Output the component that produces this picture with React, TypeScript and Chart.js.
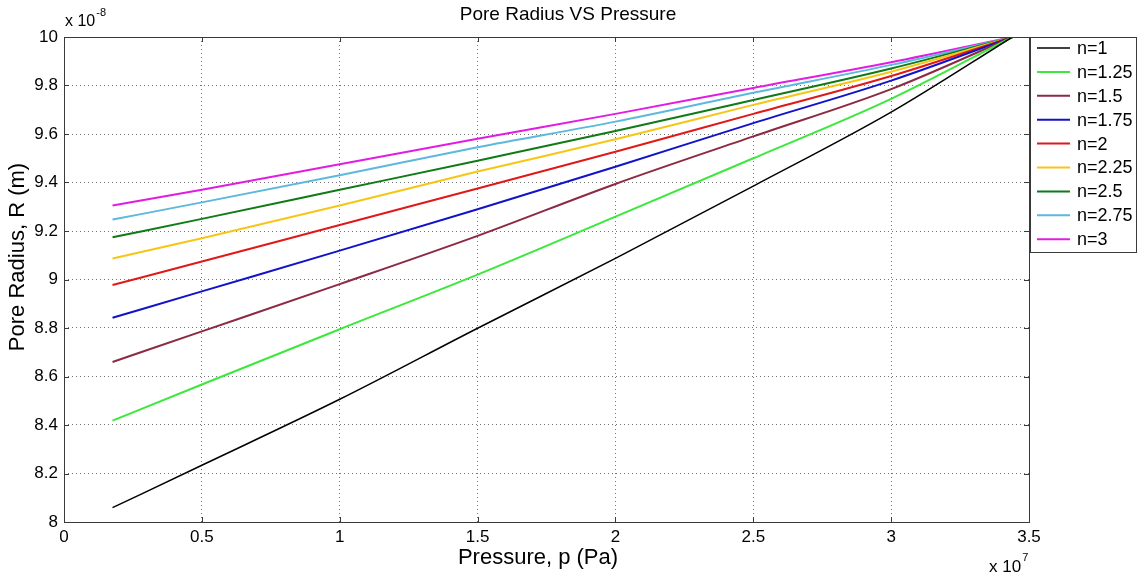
import React, { useEffect, useRef } from "react";
import { Chart, registerables } from "chart.js";

Chart.register(...registerables);

// Pressure values (x 10^7 Pa)
const pressure = [0.176, 0.5, 1.0, 1.5, 2.0, 2.5, 3.0, 3.44];

// Pore radius values (x 10^-8 m) for each n
const rN1 = [8.059, 8.234, 8.506, 8.799, 9.087, 9.385, 9.69, 10.0];
const rN125 = [8.418, 8.567, 8.795, 9.02, 9.259, 9.5, 9.745, 10.0];
const rN15 = [8.66, 8.786, 8.981, 9.18, 9.394, 9.59, 9.785, 10.0];
const rN175 = [8.842, 8.951, 9.119, 9.29, 9.465, 9.645, 9.82, 10.0];
const rN2 = [8.977, 9.074, 9.225, 9.375, 9.527, 9.683, 9.839, 10.0];
const rN225 = [9.087, 9.17, 9.305, 9.445, 9.578, 9.72, 9.857, 10.0];
const rN25 = [9.174, 9.25, 9.37, 9.49, 9.612, 9.74, 9.87, 10.0];
const rN275 = [9.247, 9.318, 9.43, 9.545, 9.651, 9.77, 9.885, 10.0];
const rN3 = [9.305, 9.37, 9.475, 9.58, 9.683, 9.79, 9.896, 10.0];

const seriesLabels = ["n=1", "n=1.25", "n=1.5", "n=1.75", "n=2", "n=2.25", "n=2.5", "n=2.75", "n=3"];
const seriesValues = [rN1, rN125, rN15, rN175, rN2, rN225, rN25, rN275, rN3];
const seriesColors = ["#000000", "#3be83b", "#8c2a44", "#1212c8", "#e01818", "#f7c614", "#0f7a16", "#5cb8dc", "#e21ce2"];

const xTicks = [0, 0.5, 1, 1.5, 2, 2.5, 3, 3.5];
const yTicks = [8, 8.2, 8.4, 8.6, 8.8, 9, 9.2, 9.4, 9.6, 9.8, 10];

const titleText = "Pore Radius VS Pressure";
const xLabel = "Pressure, p (Pa)";
const yLabel = "Pore Radius, R (m)";

const FONT = "'Liberation Sans', Arial, sans-serif";

const decorPlugin = {
  id: "decor",
  afterDraw(chart: any) {
    const { ctx, chartArea } = chart;
    const { left, right, top, bottom } = chartArea;
    const xs = chart.scales.x;
    const ys = chart.scales.y;
    ctx.save();
    // axes box
    ctx.strokeStyle = "#3a3a3a";
    ctx.lineWidth = 1;
    ctx.strokeRect(Math.round(left) + 0.5, Math.round(top) + 0.5, Math.round(right - left), Math.round(bottom - top));
    // inward ticks
    const tl = 5;
    ctx.beginPath();
    xTicks.forEach((v) => {
      const px = Math.round(xs.getPixelForValue(v)) + 0.5;
      ctx.moveTo(px, bottom);
      ctx.lineTo(px, bottom - tl);
      ctx.moveTo(px, top);
      ctx.lineTo(px, top + tl);
    });
    yTicks.forEach((v) => {
      const py = Math.round(ys.getPixelForValue(v)) + 0.5;
      ctx.moveTo(left, py);
      ctx.lineTo(left + tl, py);
      ctx.moveTo(right, py);
      ctx.lineTo(right - tl, py);
    });
    ctx.stroke();

    // title
    ctx.fillStyle = "#000";
    ctx.font = `19px ${FONT}`;
    ctx.textAlign = "center";
    ctx.textBaseline = "middle";
    ctx.fillText(titleText, 568, 15);

    // axis labels
    ctx.font = `22px ${FONT}`;
    ctx.fillText(xLabel, 538, 558);
    ctx.save();
    ctx.translate(18, 257);
    ctx.rotate(-Math.PI / 2);
    ctx.fillText(yLabel, 0, 0);
    ctx.restore();

    // exponent labels
    ctx.textAlign = "left";
    ctx.textBaseline = "alphabetic";
    ctx.font = `16px ${FONT}`;
    ctx.fillText("x 10", 65, 26);
    let w = ctx.measureText("x 10").width;
    ctx.font = `11px ${FONT}`;
    ctx.fillText("-8", 65 + w + 1, 16);
    ctx.font = `17px ${FONT}`;
    ctx.fillText("x 10", 989, 572);
    w = ctx.measureText("x 10").width;
    ctx.font = `11px ${FONT}`;
    ctx.fillText("7", 989 + w + 1, 561);

    // legend
    const lx = right + 1;
    const ly = top;
    const lw = 1137 - lx;
    const lh = 215;
    ctx.fillStyle = "#fff";
    ctx.fillRect(lx, ly, lw, lh);
    ctx.strokeStyle = "#3a3a3a";
    ctx.strokeRect(lx + 0.5, ly + 0.5, lw - 1, lh);
    ctx.font = `18px ${FONT}`;
    ctx.textBaseline = "middle";
    seriesLabels.forEach((lab, i) => {
      const yy = ly + 11 + i * 23.9;
      ctx.strokeStyle = seriesColors[i];
      ctx.lineWidth = i === 0 ? 1.5 : 2;
      ctx.beginPath();
      ctx.moveTo(lx + 7, yy);
      ctx.lineTo(lx + 40, yy);
      ctx.stroke();
      ctx.fillStyle = "#000";
      ctx.fillText(lab, lx + 47, yy + 1);
    });
    ctx.restore();
  },
};

export default function App() {
  const ref = useRef<HTMLCanvasElement | null>(null);
  useEffect(() => {
    document.body.style.margin = "0";
    const canvas = ref.current;
    if (!canvas) return;
    const chart = new Chart(canvas, {
      type: "line",
      data: {
        datasets: seriesValues.map((vals, i) => ({
          label: seriesLabels[i],
          data: vals.map((v, j) => ({ x: pressure[j], y: v })),
          borderColor: seriesColors[i],
          backgroundColor: seriesColors[i],
          borderWidth: i === 0 ? 1.5 : 2,
          pointRadius: 0,
          tension: 0.4,
          cubicInterpolationMode: "monotone",
          fill: false,
        })),
      },
      options: {
        responsive: false,
        animation: false,
        layout: { padding: { top: 37, right: 109, left: 0, bottom: 0 } },
        plugins: {
          legend: { display: false },
          title: { display: false },
          tooltip: { enabled: false },
        },
        scales: {
          x: {
            type: "linear",
            min: 0,
            max: 3.5,
            afterFit: (s: any) => {
              s.height = 53;
            },
            afterBuildTicks: (s: any) => {
              s.ticks = xTicks.map((v) => ({ value: v }));
            },
            ticks: {
              color: "#000",
              font: { family: FONT, size: 17 },
              padding: 5,
              maxRotation: 0,
              callback: (v: any) => String(Math.round(Number(v) * 10) / 10),
            },
            grid: { color: "rgba(0,0,0,0.55)", lineWidth: 1, drawTicks: false },
            border: { display: false, dash: [1, 3] },
            title: { display: false },
          },
          y: {
            type: "linear",
            min: 8,
            max: 10,
            afterFit: (s: any) => {
              s.width = 64;
            },
            afterBuildTicks: (s: any) => {
              s.ticks = yTicks.map((v) => ({ value: v }));
            },
            ticks: {
              color: "#000",
              font: { family: FONT, size: 17 },
              padding: 6,
              callback: (v: any) => String(Math.round(Number(v) * 10) / 10),
            },
            grid: { color: "rgba(0,0,0,0.55)", lineWidth: 1, drawTicks: false },
            border: { display: false, dash: [1, 3] },
            title: { display: false },
          },
        },
      },
      plugins: [decorPlugin],
    } as any);
    return () => chart.destroy();
  }, []);
  return <canvas ref={ref} width={1138} height={575} style={{ display: "block" }} />;
}
